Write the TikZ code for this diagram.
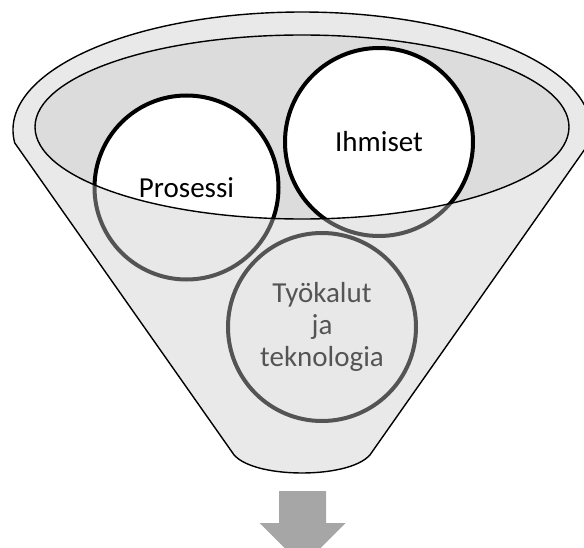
\documentclass[tikz,border=0pt]{standalone}
\usepackage{fontspec}
\setmainfont{Carlito}
\definecolor{inside}{RGB}{220,220,220}
\definecolor{veil}{RGB}{202,202,202}
\definecolor{arrowgray}{RGB}{166,166,166}
\begin{document}
\begin{tikzpicture}[x=1pt,y=-1pt,
  ring/.style={circle, draw=black, line width=4pt, fill=white, minimum size=#1,
    inner sep=0pt, font=\fontsize{29}{32}\selectfont, align=center},
  outline/.style={draw=black, line width=1.4pt},
  veilfill/.style={fill=veil, fill opacity=0.42, even odd rule}]
\useasboundingbox (0,0) rectangle (584,548);
% inside of the funnel opening
\fill[inside] (302,127) ellipse [x radius=267, y radius=92];
% circles
\node[ring=184pt] (proc) at (186.5,187.5) {Prosessi};
\node[ring=188pt] (people) at (379,142) {Ihmiset};
\node[ring=188pt] (tools) at (322,327) {Työkalut\\ja\\teknologia};
% translucent funnel body in front
\path[veilfill] (14.75,142.95) arc[start angle=173.7, end angle=366.3, x radius=289, y radius=118]
  -- (372,452) .. controls (356,480) and (248,480) .. (232,452) -- cycle
  (302,127) ellipse [x radius=267, y radius=92];
% outlines
\draw[outline] (14.75,142.95) arc[start angle=173.7, end angle=366.3, x radius=289, y radius=118]
  -- (372,452) .. controls (356,480) and (248,480) .. (232,452) -- cycle;
\draw[outline] (302,127) ellipse [x radius=267, y radius=92];
% output arrow
\fill[arrowgray] (279,491) -- (326,491) -- (326,523) -- (345.5,523) -- (302.5,566)
  -- (259.5,523) -- (279,523) -- cycle;
\end{tikzpicture}
\end{document}
